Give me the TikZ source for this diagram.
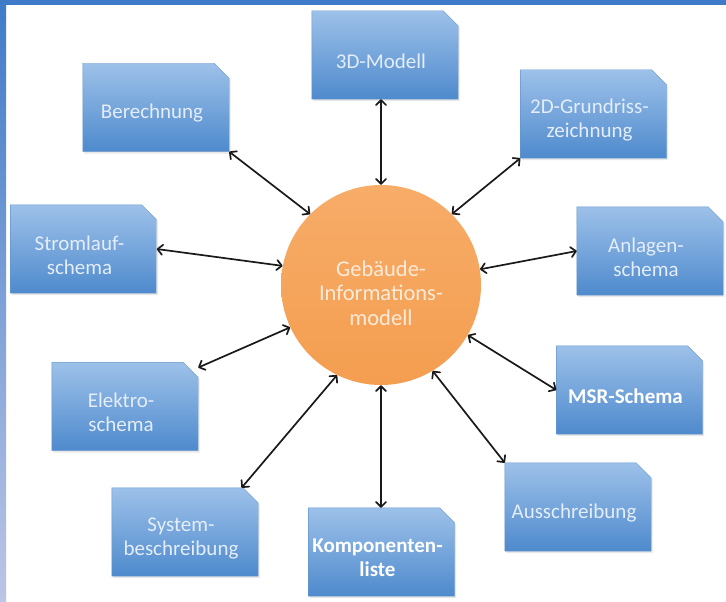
\documentclass[tikz,border=0pt]{standalone}
\usepackage{fontspec}
\setmainfont{Carlito}
\usetikzlibrary{shadows,arrows.meta}
\pgfdeclarelayer{paper}
\pgfdeclarelayer{cards}
\pgfsetlayers{paper,cards,main}
\definecolor{frameblue}{HTML}{3F7BC8}
\definecolor{framepale}{HTML}{BCC6E6}
\definecolor{boxtop}{HTML}{9DC1E9}
\definecolor{boxbot}{HTML}{4E8ACD}
\definecolor{boxedge}{HTML}{6696CE}
\definecolor{boxtext}{HTML}{E4EDF8}
\definecolor{orangetop}{HTML}{F7AC68}
\definecolor{orangebot}{HTML}{F49E50}
\definecolor{orangetext}{HTML}{FDEBDA}
\definecolor{linkcol}{HTML}{1A1A1A}
\tikzset{
  infobox/.style={rectangle, minimum width=146pt, minimum height=88pt, inner sep=2pt},
  snipfill/.style={top color=boxtop, bottom color=boxbot, draw=boxedge, line width=0.4pt,
    drop shadow={opacity=0.18, shadow xshift=1.5pt, shadow yshift=-2pt}},
  boxtxt/.style={text=boxtext, align=center, xshift=-4pt, yshift=-6pt,
    font=\fontsize{21}{24}\selectfont},
  boldtxt/.style={boxtxt, text=white, font=\fontsize{21}{24}\selectfont\bfseries},
  core/.style={circle, minimum size=200pt, inner sep=0pt,
    top color=orangetop, bottom color=orangebot, draw=none},
  coretxt/.style={text=orangetext, align=center, yshift=-8pt,
    font=\fontsize{22.5}{24.5}\selectfont},
  barb/.tip={Straight Barb[length=5pt,width=10pt,line cap=round,line join=round]},
  link/.style={barb-barb, line width=1.7pt, linkcol}
}
\begin{document}
\begin{tikzpicture}[x=1pt,y=-1pt]
  \useasboundingbox (0,0) rectangle (726,602);
  \begin{pgfonlayer}{paper}
    \fill[white] (0,0) rectangle (726,602);
    % page frame
    \fill[frameblue] (0,0) rectangle (726,5);
    \shade[top color=frameblue, bottom color=framepale] (0,0) rectangle (6,602);
  \end{pgfonlayer}

  % central model
  \node[core, label={[coretxt]center:{Gebäude-\\Informations-\\modell}}] (gim) at (381,285) {};

  % surrounding documents
  \node[infobox, label={[boxtxt]center:{3D-Modell}}] (m3d) at (385,55) {};
  \node[infobox, label={[boxtxt]center:{Berechnung}}] (ber) at (156,107.5) {};
  \node[infobox, label={[boxtxt]center:{2D-Grundriss-\\zeichnung}}] (g2d) at (593.5,114) {};
  \node[infobox, label={[boxtxt]center:{Stromlauf-\\schema}}] (str) at (83.5,249) {};
  \node[infobox, label={[boxtxt]center:{Anlagen-\\schema}}] (anl) at (650,251) {};
  \node[infobox, label={[boxtxt]center:{Elektro-\\schema}}] (ele) at (125,406.5) {};
  \node[infobox, label={[boldtxt]center:{MSR-Schema}}] (msr) at (629.5,390) {};
  \node[infobox, label={[boxtxt]center:{System-\\beschreibung}}] (sys) at (185,532) {};
  \node[infobox, label={[boldtxt]center:{Komponenten-\\liste}}] (kom) at (381.5,552) {};
  \node[infobox, label={[boxtxt]center:{Ausschreibung}}] (aus) at (578,507) {};

  % document cards with a snipped top-right corner, behind their labels
  \begin{pgfonlayer}{cards}
    \foreach \n in {m3d,ber,g2d,str,anl,ele,msr,sys,kom,aus}
      \path[snipfill] (\n.north west) -- ([xshift=-15pt]\n.north east)
        -- ([yshift=-15pt]\n.north east) -- (\n.south east) -- (\n.south west) -- cycle;
  \end{pgfonlayer}

  % connections
  \draw[link] (m3d.south -| gim.north) -- (gim.north);
  \draw[link] (ber.south east) -- (gim.135);
  \draw[link] (g2d.south west) -- (gim.45);
  \draw[link] (str.east) -- (gim.169);
  \draw[link] (anl.west) -- (gim.9);
  \draw[link] (ele.28) -- (gim.205);
  \draw[link] (msr.west) -- (gim.-30);
  \draw[link] (sys.38) -- (gim.244);
  \draw[link] (kom.north -| gim.south) -- (gim.south);
  \draw[link] (aus.north west) -- (gim.-59);
\end{tikzpicture}
\end{document}
